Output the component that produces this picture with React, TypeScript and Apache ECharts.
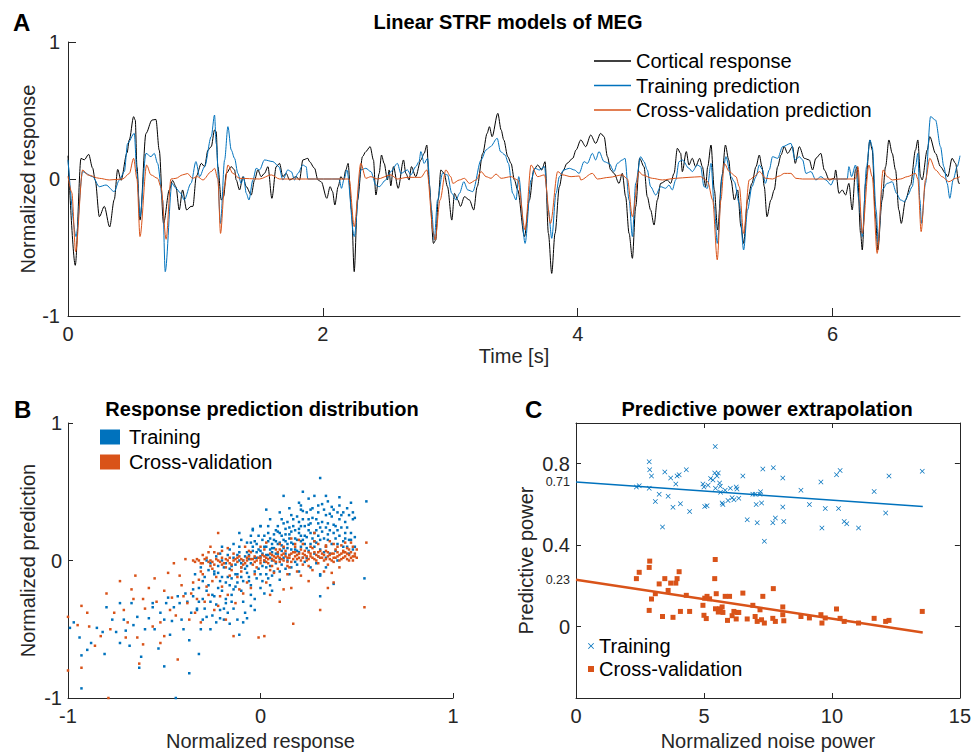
import React, { useEffect, useRef } from 'react';
import * as echarts from 'echarts';

const FONT = '"Liberation Sans", Arial, Helvetica, sans-serif';
const AX = '#262626';
const BLUE = '#0072BD';
const ORANGE = '#D95319';

// ---------- Panel A: time series [time s, normalized response] ----------
const cortical: [number, number][] = [[0,0.17],[0.057,-0.63],[0.102,0.15],[0.128,0.14],[0.162,0.18],[0.193,0.08],[0.214,-0.01],[0.246,-0.275],[0.285,-0.2],[0.327,-0.35],[0.363,-0.15],[0.39,0.07],[0.416,-0.01],[0.463,0.19],[0.481,0.285],[0.515,0.455],[0.528,0.43],[0.541,0.09],[0.565,-0.3],[0.612,0.333],[0.659,0.43],[0.69,0.435],[0.716,0.21],[0.75,-0.324],[0.795,-0.08],[0.821,-0.01],[0.847,-0.056],[0.873,-0.226],[0.899,-0.08],[0.931,-0.226],[0.965,-0.2],[0.98,-0.2],[1.007,0.02],[1.046,0.114],[1.072,0.09],[1.098,0.21],[1.124,0.236],[1.15,0.358],[1.163,0.345],[1.176,0.09],[1.203,-0.153],[1.221,-0.129],[1.242,0.041],[1.281,0.09],[1.307,0.066],[1.32,-0.007],[1.346,-0.08],[1.373,0.017],[1.399,-0.056],[1.438,-0.117],[1.464,-0.007],[1.49,0.066],[1.516,0.017],[1.542,0.041],[1.569,0.09],[1.6,-0.141],[1.634,0.09],[1.66,0.114],[1.686,0.017],[1.712,0.041],[1.739,-0.007],[1.791,0.017],[1.817,-0.007],[1.843,0.139],[1.882,0.151],[1.895,0.127],[1.935,0.078],[1.961,-0.007],[1.987,-0.02],[2.031,-0.141],[2.057,-0.056],[2.076,-0.092],[2.094,-0.19],[2.12,-0.056],[2.141,0.017],[2.162,-0.007],[2.18,0.066],[2.198,0.114],[2.225,-0.226],[2.246,-0.676],[2.272,-0.153],[2.311,0.163],[2.337,0.2],[2.371,0.236],[2.397,0.139],[2.416,-0.117],[2.442,0.041],[2.46,0.175],[2.481,0.114],[2.507,-0.007],[2.52,0.066],[2.533,-0.05],[2.554,0.09],[2.591,-0.068],[2.633,0.139],[2.651,0.041],[2.677,-0.007],[2.695,0.09],[2.729,0.017],[2.769,0.139],[2.795,0.187],[2.816,0.248],[2.834,-0.032],[2.868,-0.47],[2.886,-0.445],[2.905,-0.153],[2.926,0.066],[2.952,0.041],[2.978,-0.056],[3.012,-0.3],[3.033,-0.105],[3.059,-0.153],[3.08,-0.2],[3.111,-0.129],[3.15,-0.153],[3.184,-0.226],[3.211,-0.056],[3.255,0.187],[3.289,0.333],[3.307,0.382],[3.328,0.309],[3.373,0.479],[3.399,0.358],[3.42,0.285],[3.451,0.163],[3.477,0.114],[3.503,-0.007],[3.529,-0.08],[3.582,-0.42],[3.621,-0.153],[3.655,0.066],[3.686,0.102],[3.718,0.066],[3.744,0.127],[3.77,-0.397],[3.796,-0.689],[3.822,-0.397],[3.856,-0.056],[3.882,0.054],[3.916,0.114],[3.961,0.151],[3.987,0.212],[4.024,0.285],[4.063,0.236],[4.102,0.321],[4.141,0.26],[4.18,0.333],[4.207,0.309],[4.233,0.163],[4.259,0.066],[4.285,0.041],[4.324,-0.032],[4.35,0.041],[4.376,-0.129],[4.403,-0.397],[4.429,-0.579],[4.455,-0.202],[4.486,0.151],[4.52,0.09],[4.546,-0.129],[4.572,-0.226],[4.599,-0.336],[4.625,-0.153],[4.651,-0.032],[4.703,-0.007],[4.729,-0.032],[4.756,0.041],[4.782,0.224],[4.808,0.187],[4.821,0.054],[4.852,0.2],[4.873,0.102],[4.899,0.151],[4.925,0.09],[4.957,0.151],[4.978,0.09],[5.004,-0.056],[5.02,0.09],[5.046,0.248],[5.072,-0.08],[5.098,-0.372],[5.132,0.017],[5.159,0.248],[5.185,0.139],[5.203,-0.007],[5.229,-0.153],[5.255,-0.08],[5.281,-0.348],[5.302,-0.47],[5.333,-0.153],[5.367,-0.032],[5.399,0.09],[5.425,0.175],[5.446,0.09],[5.464,-0.056],[5.485,-0.275],[5.516,-0.153],[5.542,-0.08],[5.569,0.09],[5.595,0.175],[5.621,0.236],[5.647,0.187],[5.686,0.236],[5.707,0.114],[5.739,0.236],[5.778,0.151],[5.817,0.139],[5.843,0.066],[5.869,0.151],[5.908,0.187],[5.935,0.066],[5.974,-0.007],[6.013,0.005],[6.024,0.066],[6.05,-0.105],[6.076,-0.08],[6.102,-0.117],[6.128,-0.032],[6.154,-0.226],[6.18,0.066],[6.193,0.09],[6.22,-0.397],[6.233,-0.518],[6.259,-0.032],[6.293,0.285],[6.311,0.212],[6.337,-0.275],[6.355,-0.518],[6.389,-0.153],[6.416,0.09],[6.442,0.285],[6.468,0.187],[6.494,0.066],[6.52,-0.226],[6.539,-0.324],[6.573,-0.153],[6.612,-0.044],[6.651,0.212],[6.669,0.285],[6.69,0.017],[6.703,-0.007],[6.743,0.212],[6.763,0.309],[6.808,0.187],[6.847,0.09],[6.886,0.041],[6.904,0.017],[6.938,0.151],[6.965,0.114],[6.991,-0.032],[7.0,-0.03]];

const trainingPred: [number, number][] = [[0,0.14],[0.063,-0.42],[0.115,0.054],[0.193,0.017],[0.246,-0.056],[0.298,-0.044],[0.363,-0.092],[0.403,-0.007],[0.442,0.054],[0.468,0.26],[0.52,0.333],[0.541,0.041],[0.565,-0.275],[0.612,0.187],[0.651,0.163],[0.677,0.187],[0.703,0.114],[0.743,-0.153],[0.763,-0.676],[0.816,-0.032],[0.847,-0.068],[0.886,-0.105],[0.912,-0.153],[0.965,-0.032],[1.004,0.127],[1.033,0.017],[1.072,0.09],[1.124,0.309],[1.15,0.467],[1.163,0.26],[1.197,-0.324],[1.229,0.139],[1.255,0.382],[1.281,0.212],[1.307,0.151],[1.333,0.041],[1.359,-0.032],[1.378,0.017],[1.399,-0.105],[1.42,-0.153],[1.451,-0.007],[1.477,0.078],[1.503,0.066],[1.542,0.139],[1.608,0.127],[1.655,0.09],[1.686,-0.007],[1.725,0.066],[1.752,0.054],[1.778,-0.007],[1.804,0.041],[1.843,0.102],[1.869,0.09],[1.882,0],[2.128,0],[2.146,-0.068],[2.167,0],[2.188,0.066],[2.246,-0.42],[2.298,0.066],[2.337,0.078],[2.377,0.054],[2.416,-0.044],[2.442,-0.056],[2.494,-0.007],[2.533,0.054],[2.585,0.114],[2.612,0.041],[2.664,0.066],[2.69,0.03],[2.729,0.09],[2.755,0.127],[2.769,0.2],[2.795,0.114],[2.821,0.151],[2.853,-0.226],[2.874,-0.445],[2.9,-0.153],[2.939,0.041],[2.978,0.03],[3.012,-0.105],[3.046,-0.153],[3.072,-0.105],[3.106,-0.02],[3.137,-0.08],[3.176,-0.092],[3.242,0.139],[3.281,0.212],[3.315,0.236],[3.368,0.297],[3.394,0.2],[3.43,0.175],[3.456,0.114],[3.49,-0.105],[3.516,-0.153],[3.537,0.017],[3.587,-0.47],[3.634,-0.007],[3.665,0.078],[3.699,0.066],[3.739,0.09],[3.77,-0.226],[3.796,-0.433],[3.83,-0.105],[3.856,0.017],[3.89,0.066],[3.935,0.078],[3.974,0.066],[4.011,0.041],[4.05,0.127],[4.076,0.114],[4.115,0.187],[4.141,0.139],[4.167,0.2],[4.207,0.127],[4.246,0.114],[4.285,0.054],[4.311,0.114],[4.35,0.139],[4.371,0.151],[4.403,-0.153],[4.429,-0.42],[4.455,-0.032],[4.494,0.163],[4.52,0.127],[4.546,0.066],[4.572,-0.056],[4.612,-0.117],[4.651,-0.056],[4.69,-0.068],[4.716,-0.044],[4.742,-0.08],[4.769,-0.007],[4.795,0.127],[4.821,0.139],[4.873,0.078],[4.899,0.054],[4.939,0.102],[4.965,0.09],[4.991,-0.056],[5.017,-0.068],[5.046,0.114],[5.072,-0.202],[5.095,-0.47],[5.137,0.041],[5.163,0.163],[5.203,0.017],[5.229,-0.02],[5.268,-0.178],[5.302,-0.518],[5.333,-0.226],[5.367,-0.056],[5.399,0.017],[5.425,0.102],[5.451,0.066],[5.472,-0.032],[5.503,0.066],[5.529,0.163],[5.569,0.151],[5.608,0.236],[5.673,0.26],[5.707,0.139],[5.739,0.163],[5.765,0.139],[5.791,0.041],[5.83,0.054],[5.869,-0.007],[5.908,0.017],[5.948,-0.007],[5.987,-0.044],[6.013,0],[6.115,0],[6.128,0.09],[6.149,0.017],[6.18,0.102],[6.207,-0.153],[6.233,-0.42],[6.267,0.09],[6.293,0.285],[6.311,0.236],[6.342,-0.226],[6.358,-0.457],[6.389,-0.08],[6.429,-0.032],[6.468,-0.02],[6.502,-0.105],[6.533,-0.153],[6.565,-0.165],[6.591,-0.117],[6.625,-0.056],[6.651,0.09],[6.669,0.187],[6.685,-0.153],[6.698,-0.324],[6.729,-0.032],[6.769,0.455],[6.808,0.43],[6.847,0.236],[6.873,0.09],[6.899,-0.032],[6.92,-0.141],[6.946,-0.007],[6.978,0.09],[7.0,0.17]];

const cvPred: [number, number][] = [[0,0.02],[0.03,-0.1],[0.06,-0.53],[0.115,0.066],[0.154,0.03],[0.246,0.005],[0.324,-0.007],[0.429,0],[0.481,0.04],[0.515,0.151],[0.541,0],[0.565,-0.42],[0.617,0.102],[0.651,0.03],[0.703,0.005],[0.729,-0.056],[0.77,-0.44],[0.808,0],[0.847,0.005],[0.899,0.03],[0.938,0.04],[0.977,0.005],[1.016,0.017],[1.059,-0.007],[1.124,0.054],[1.15,0.078],[1.176,0],[1.197,-0.397],[1.229,-0.05],[1.255,0.102],[1.294,0.041],[1.346,0.005],[1.503,0],[1.595,0.03],[1.66,0],[2.206,0],[2.246,-0.348],[2.298,0.114],[2.337,0.005],[2.377,0.017],[2.429,0],[2.533,0.03],[2.585,0],[2.664,0.012],[2.769,0.012],[2.816,0.066],[2.868,-0.397],[2.881,-0.445],[2.92,-0.153],[2.965,0.066],[3.004,0.017],[3.02,-0.032],[3.072,-0.007],[3.111,0.005],[3.15,-0.032],[3.203,-0.007],[3.242,0.054],[3.281,0.017],[3.32,0.005],[3.359,0.036],[3.399,0.005],[3.477,0.017],[3.529,-0.007],[3.587,-0.372],[3.634,0.102],[3.686,0.017],[3.739,0.03],[3.786,-0.324],[3.843,0.054],[3.882,0.03],[3.948,0.017],[4.013,0.022],[4.024,-0.007],[4.115,0.041],[4.154,0],[4.246,0.012],[4.35,0.03],[4.39,0],[4.429,-0.275],[4.481,0.054],[4.507,0.03],[4.586,0.005],[4.664,-0.007],[4.769,0.005],[4.873,0.012],[4.965,0.017],[5.004,-0.007],[5.02,-0.02],[5.059,-0.153],[5.095,-0.59],[5.124,-0.153],[5.15,0.114],[5.19,0.054],[5.242,0.017],[5.268,-0.056],[5.302,-0.397],[5.346,-0.007],[5.386,0.017],[5.425,0.054],[5.477,0.005],[5.529,0],[5.582,0.022],[5.621,0.041],[5.673,0.041],[5.712,0.005],[5.765,0],[6.18,0],[6.199,0.09],[6.233,-0.397],[6.285,0.102],[6.311,0.017],[6.35,-0.543],[6.397,0.066],[6.429,0.017],[6.468,-0.007],[6.533,0],[6.586,0.017],[6.651,0.041],[6.669,0],[6.695,-0.384],[6.729,-0.007],[6.763,0.151],[6.808,0.066],[6.86,0.017],[6.912,-0.02],[6.965,0.005],[7.0,0.017]];

// ---------- Panel B: scatter [normalized response, normalized prediction] ----------
const bTraining: [number, number][] = [
[-0.31,-0.05],[-0.29,-0.12],[-0.32,-0.2],[-0.3,-0.28],[-0.28,0.0],[-0.33,-0.35],[-0.3,-0.15],
[-0.26,-0.02],[-0.24,-0.1],[-0.27,-0.18],[-0.25,-0.25],[-0.23,0.03],[-0.26,-0.3],[-0.24,-0.08],[-0.25,-0.4],
[-0.21,0.05],[-0.19,-0.05],[-0.2,-0.12],[-0.22,-0.2],[-0.18,-0.28],[-0.2,0.0],[-0.21,-0.15],[-0.19,-0.35],[-0.2,0.1],
[-0.16,0.08],[-0.14,0.02],[-0.15,-0.04],[-0.13,-0.1],[-0.16,-0.18],[-0.15,-0.25],[-0.14,0.12],[-0.16,-0.06],[-0.15,-0.3],
[-0.1,0.15],[-0.11,0.06],[-0.09,0.0],[-0.1,-0.05],[-0.12,-0.1],[-0.09,-0.15],[-0.1,-0.22],[-0.11,0.1],[-0.08,0.03],[-0.1,-0.02],[-0.09,-0.3],
[-0.05,0.18],[-0.04,0.1],[-0.06,0.04],[-0.05,-0.02],[-0.03,-0.08],[-0.06,-0.12],[-0.05,-0.18],[-0.04,0.07],[-0.06,0.01],[-0.05,-0.25],[-0.04,0.22],
[0.0,0.25],[0.01,0.15],[-0.01,0.08],[0.0,0.03],[0.02,-0.01],[-0.01,-0.06],[0.0,-0.1],[0.01,-0.15],[-0.02,0.12],[0.01,0.05],[0.0,-0.2],[0.02,0.0],
[0.05,0.3],[0.04,0.2],[0.06,0.12],[0.05,0.08],[0.04,0.04],[0.06,0.0],[0.05,-0.04],[0.07,-0.08],[0.04,-0.13],[0.05,0.16],[0.06,0.06],[0.05,-0.18],
[0.1,0.35],[0.09,0.25],[0.11,0.18],[0.1,0.13],[0.12,0.09],[0.09,0.05],[0.1,0.01],[0.11,-0.03],[0.1,-0.08],[0.09,0.21],[0.11,0.11],[0.1,-0.14],
[0.15,0.38],[0.14,0.28],[0.16,0.21],[0.15,0.16],[0.14,0.12],[0.16,0.08],[0.15,0.04],[0.14,0.0],[0.16,-0.05],[0.15,0.24],[0.13,0.14],[0.15,-0.1],
[0.2,0.42],[0.19,0.32],[0.21,0.25],[0.2,0.2],[0.19,0.15],[0.21,0.1],[0.2,0.06],[0.22,0.02],[0.19,-0.03],[0.2,0.28],[0.21,0.18],[0.2,-0.08],
[0.25,0.45],[0.24,0.35],[0.26,0.27],[0.25,0.22],[0.24,0.17],[0.26,0.12],[0.25,0.07],[0.24,0.02],[0.26,-0.05],[0.25,0.3],
[0.3,0.4],[0.29,0.3],[0.31,0.24],[0.3,0.18],[0.29,0.13],[0.31,0.08],[0.3,0.03],[0.29,-0.02],[0.3,0.35],[0.31,-0.1],
[0.35,0.43],[0.34,0.33],[0.36,0.22],[0.35,0.15],[0.34,0.1],[0.36,0.05],[0.35,0.27],[0.34,-0.05],
[0.4,0.35],[0.39,0.25],[0.41,0.18],[0.4,0.12],[0.39,0.07],[0.41,0.3],[0.4,0.0],
[0.45,0.38],[0.44,0.2],[0.46,0.15],[0.45,0.1],[0.44,0.28],[0.46,0.05],[0.48,0.3],[0.47,0.15],[0.49,0.1],
[-0.18,-0.02],[-0.12,0.04],[-0.07,-0.04],[-0.02,0.06],[0.03,0.1],[0.08,0.14],[0.13,0.19],[0.18,0.22],[0.23,0.12],[0.28,0.2],[0.33,0.16],[0.38,0.2],[0.43,0.14],
[-0.17,-0.12],[-0.07,-0.09],[0.03,-0.05],[0.08,-0.02],[0.13,0.05],[0.18,0.08],[0.23,0.25],[0.28,0.1],[0.33,0.06],[0.07,0.19],[0.12,0.27],[0.17,0.3],[0.22,0.36],[0.27,0.38],[0.32,0.28],[0.37,0.32],[0.42,0.24],
[-0.28,-0.22],[-0.22,-0.09],[-0.13,-0.19],[-0.03,0.14],[0.02,0.18],[0.17,0.12],[0.22,0.15],[0.27,0.16],[0.12,0.02],[0.07,0.09],
[-0.02,0.02],[0.0,0.07],[0.02,0.1],[0.03,0.04],[0.04,0.14],[0.05,0.02],[0.06,0.09],[0.07,0.15],[0.08,0.05],[0.09,0.12],[0.1,0.2],[0.11,0.07],[0.12,0.15],[0.13,0.23],[0.14,0.09],[0.15,0.19],[0.16,0.13],[0.17,0.25],[0.18,0.16],[0.19,0.07],[0.2,0.23],[0.21,0.14],[0.22,0.3],[0.23,0.18],[0.24,0.09],[0.25,0.26],[0.26,0.2],[0.27,0.31],[0.28,0.14],[0.29,0.22],[0.3,0.27],[0.31,0.15],[0.32,0.21],[0.33,0.37],[0.34,0.24],[0.35,0.19],[0.36,0.34],[0.37,0.12],[0.38,0.26],[0.39,0.16],[0.4,0.22],[0.42,0.33],[0.43,0.1],[0.44,0.16],[0.45,0.24],[0.47,0.2],[0.48,0.08],
[-0.22,-0.04],[-0.2,-0.22],[-0.18,-0.16],[-0.17,0.04],[-0.15,-0.13],[-0.13,-0.03],[-0.12,-0.16],[-0.11,0.0],[-0.1,-0.12],[-0.08,-0.06],[-0.07,0.06],[-0.06,-0.15],[-0.05,0.13],[-0.03,0.02],[-0.02,-0.13],[-0.01,0.18],[0.01,-0.04],[0.03,-0.1],[0.04,0.25],[0.06,-0.11],[0.08,0.22],[0.11,0.3],[0.13,-0.06],[0.16,0.33],[0.18,-0.01],[0.21,0.4],[0.23,-0.01],[0.26,0.37],[0.28,0.05],[0.32,0.41],[0.34,0.02],[0.37,0.39],[0.41,0.4],[0.43,0.35],[0.46,0.33],
[-0.35,-0.26],[-0.34,-0.1],[-0.32,-0.3],[-0.29,-0.35],[-0.27,-0.07],[-0.23,-0.32],[-0.21,-0.42],[-0.17,-0.38],[-0.14,-0.35],[-0.08,-0.38],[-0.03,-0.28],[0.02,-0.24],[0.06,-0.22],[-0.38,-0.3],[-0.43,-0.26],[-0.46,-0.44],[-0.52,-0.38],[-0.58,-0.42],[-0.6,-0.5],[-0.66,-0.47],[-0.75,-0.52],[-0.82,-0.52],[-0.9,-0.65],[-0.97,-0.45],[-0.68,-0.62],[-0.4,-0.5],[-0.36,-0.38],[-0.26,-0.5],[-0.16,-0.46],[-0.07,-0.42],
[-0.99,-0.49],[-0.94,-0.56],[-0.93,-0.69],[-0.93,-0.93],[-0.88,-0.6],[-0.85,-0.49],[-0.81,-0.68],[-0.8,-0.34],[-0.77,-0.43],[-0.73,-0.6],[-0.73,-0.31],[-0.71,-0.43],[-0.7,-0.51],[-0.67,-0.31],[-0.64,-0.41],[-0.63,-0.78],[-0.62,-0.7],[-0.56,-0.31],[-0.56,-0.34],[-0.55,-0.5],[-0.53,-0.64],[-0.5,-0.43],[-0.5,-0.77],[-0.49,-0.31],[-0.48,-0.27],[-0.47,-0.54],[-0.45,-0.34],[-0.44,-1.0],[-0.42,-0.31],[-0.41,-0.43],[-0.39,-0.24],[-0.37,-0.58],[-0.37,-0.82],[-0.35,-0.21],[-0.33,-0.36],[-0.32,-0.68],[-0.31,-0.5],[-0.3,-0.43],[-0.28,-0.41],[-0.24,-0.26],[-0.23,-0.45],[-0.21,-0.36],[-0.19,-0.43],[-0.18,-0.31],[-0.14,-0.21],[-0.12,-0.43],[-0.11,-0.54],[-0.09,-0.45],[-0.05,-0.33],[-0.03,-0.36],
[0.03,0.37],[0.12,0.47],[0.21,0.37],[0.22,0.5],[0.28,0.47],[0.34,0.47],[0.41,0.46],[0.47,0.42],[0.48,0.35],[0.49,0.31],[0.49,0.17],[0.38,0.37],[0.31,0.6],[0.55,0.43],[0.54,-0.13],[0.38,-0.17],[0.31,-0.26],[0.31,-0.11],[0.0,0.25],[-0.04,0.23],[-0.11,0.2],[-0.07,0.13]
];

const bCross: [number, number][] = [
[-1.0,-0.41],[-0.95,-0.47],[-0.93,-0.33],[-0.93,-0.78],[-1.0,-0.8],[-0.89,-0.48],[-0.83,-0.55],[-0.8,-0.24],[-0.79,-1.0],[-0.78,-0.5],[-0.73,-0.15],[-0.71,-0.36],[-0.7,-0.56],[-0.67,-0.21],[-0.65,-0.11],[-0.64,-0.56],[-0.63,-0.75],[-0.61,-0.61],[-0.61,-0.28],[-0.56,-0.48],[-0.55,-0.13],[-0.52,-0.45],[-0.5,-0.55],[-0.48,-0.09],[-0.47,-0.36],[-0.45,-0.02],[-0.43,-0.72],[-0.42,-0.11],[-0.4,-0.26],[-0.39,0.01],[-0.38,-0.31],[-0.37,-0.43],[-0.35,0.0],[-0.35,-0.16],[-0.33,-0.28],[-0.31,-0.45],[-0.3,-0.1],[-0.28,-0.19],[-0.26,0.1],[-0.24,-0.36],[-0.24,0.06],[-0.22,0.2],[-0.21,-0.26],[-0.18,-0.43],[-0.16,-0.11],[-0.14,-0.55],[-0.11,-0.21],[-0.07,-0.16],[-0.01,-0.56],[0.02,-0.55],[0.03,-0.16],[0.07,-0.09],[0.12,-0.21],[0.14,-0.1],[0.17,-0.46],[0.21,-0.11],[0.31,-0.36],[0.37,-0.09],[0.38,-0.16],[0.47,0.13],[0.48,0.1],[0.55,0.13],[0.54,-0.34],[0.28,0.2],[0.34,0.1],[0.43,0.06],
[-0.86,-0.62],[-0.76,-0.38],[-0.69,-0.45],[-0.6,-0.35],[-0.58,-0.2],[-0.54,-0.3],[-0.5,-0.22],[-0.46,-0.27],[-0.44,-0.4],[-0.41,-0.18],[-0.36,-0.24],[-0.34,-0.38],[-0.32,-0.14],[-0.29,-0.3],[-0.27,-0.25],[-0.25,-0.15],[-0.22,-0.33],[-0.2,-0.19],[-0.17,-0.25],[-0.13,-0.31],[-0.09,-0.24],[-0.05,-0.2],[0.05,-0.25],[0.1,-0.3],[0.16,-0.2],[0.25,-0.15],[0.35,-0.2],[-0.52,-0.6],[-0.66,-0.28],[-0.9,-0.38],
[-0.34,-0.01],[-0.32,0.0],[-0.3,-0.02],[-0.29,0.01],[-0.27,-0.01],[-0.26,0.0],[-0.24,-0.03],[-0.23,0.01],[-0.21,-0.01],[-0.2,0.02],[-0.19,-0.02],[-0.17,0.0],[-0.16,0.02],[-0.15,-0.03],[-0.13,0.01],[-0.12,-0.01],[-0.11,0.03],[-0.09,0.0],[-0.08,-0.02],[-0.07,0.02],[-0.05,0.01],[-0.04,-0.03],[-0.03,0.03],[-0.02,0.0],[0.0,0.02],[0.0,-0.02],[0.01,0.04],[0.02,0.0],[0.03,0.02],[0.04,-0.02],[0.05,0.05],[0.06,0.01],[0.07,0.03],[0.08,-0.01],[0.09,0.06],[0.1,0.02],[0.11,0.04],[0.12,0.0],[0.13,0.07],[0.14,0.02],[0.15,0.04],[0.16,-0.01],[0.17,0.06],[0.18,0.03],[0.19,0.01],[0.2,0.05],[0.21,0.08],[0.22,0.02],[0.23,0.04],[0.24,0.0],[0.25,0.06],[0.26,0.03],[0.27,0.09],[0.28,0.01],[0.29,0.04],[0.3,0.06],[0.31,0.02],[0.32,0.05],[0.33,0.0],[0.34,0.07],[0.35,0.03],[0.36,0.01],[0.37,0.05],[0.38,0.02],[0.39,0.08],[0.4,0.03],[0.41,0.0],[0.42,0.05],[0.43,0.02],[0.44,0.06],[0.45,0.01],[0.46,0.04],[0.47,0.02],[0.48,0.0],[0.49,0.03],
[-0.33,0.01],[-0.31,-0.02],[-0.28,0.02],[-0.25,-0.01],[-0.22,0.0],[-0.2,-0.03],[-0.18,0.01],[-0.16,-0.02],[-0.14,0.0],[-0.12,0.02],[-0.1,0.01],[-0.09,-0.03],[-0.07,0.0],[-0.06,0.03],[-0.04,0.01],[-0.03,-0.01],[-0.01,0.02],[0.0,0.0],[0.02,0.03],[0.03,-0.01],[0.04,0.01],[0.06,0.04],[0.07,0.0],[0.08,0.02],[0.09,0.03],[0.1,-0.01],[0.11,0.01],[0.12,0.05],[0.13,0.03],[0.14,-0.01],[0.15,0.02],[0.16,0.05],[0.17,0.01],[0.18,0.06],[0.19,0.04],[0.2,0.02],[0.21,0.0],[0.22,0.05],[0.23,0.07],[0.24,0.03],[0.25,0.01],[0.26,0.05],[0.27,0.02],[0.28,0.06],[0.29,0.0],[0.3,0.03],[0.31,0.07],[0.32,0.02],[0.33,0.04],[0.34,0.01],[0.35,0.06],[0.36,0.04],[0.37,0.0],[0.38,0.05],[0.39,0.02],[0.4,0.06],[0.41,0.04],[0.42,0.01],[0.43,0.07],[0.44,0.03],[0.45,0.05],[0.46,0.0],[0.47,0.06],[0.48,0.03],[0.49,0.05],[0.5,0.02],
[-0.3,0.04],[-0.26,-0.04],[-0.22,0.05],[-0.18,-0.05],[-0.14,0.05],[-0.1,-0.05],[-0.06,0.07],[-0.02,-0.05],[0.02,0.08],[0.06,-0.04],[0.1,0.08],[0.14,-0.04],[0.18,0.12],[0.22,-0.03],[0.26,0.1],[0.3,-0.02],[0.34,0.11],[0.38,-0.01],[0.42,0.11],[0.46,0.08],[0.5,0.08],[-0.23,-0.12],[-0.17,0.09],[-0.08,0.1],[0.03,0.13],[0.16,0.16],[0.27,-0.07],[0.36,0.14],[0.41,-0.05],[-0.31,-0.08],[-0.27,0.06],[-0.12,-0.12],[-0.03,-0.1],[0.09,-0.06],[0.19,-0.08],[0.33,-0.08],
[-0.2,0.07],[-0.1,-0.08],[0.0,0.1],[0.05,-0.07],[0.1,0.12],[0.15,-0.05],[0.2,0.15],[0.25,-0.04],[0.3,0.12],[0.35,-0.03],[0.4,0.1],[0.45,0.09],[0.12,0.1],[0.22,0.12],[-0.05,0.06],[-0.25,-0.06],[-0.15,-0.07],[0.08,0.08],[0.18,0.1],[0.28,0.14],[0.38,0.12],[0.44,0.13]
];

// ---------- Panel C: [normalized noise power, predictive power] ----------
const cTraining: [number, number][] = [[2.36,0.686],[2.47,0.692],[2.86,0.81],[2.88,0.77],[2.95,0.74],[2.86,0.68],[3.1,0.615],[3.25,0.65],[3.38,0.49],[3.47,0.76],[3.6,0.64],[3.7,0.73],[3.79,0.586],[3.9,0.7],[3.95,0.74],[4.03,0.746],[4.08,0.604],[4.31,0.77],[4.44,0.566],[4.96,0.7],[5.0,0.686],[5.03,0.59],[5.12,0.594],[5.16,0.694],[5.26,0.728],[5.35,0.72],[5.42,0.755],[5.44,0.885],[5.45,0.68],[5.51,0.74],[5.56,0.755],[5.61,0.705],[5.64,0.69],[5.65,0.66],[5.71,0.607],[5.74,0.6],[5.83,0.67],[5.94,0.62],[6.03,0.68],[6.1,0.633],[6.17,0.623],[6.26,0.686],[6.29,0.676],[6.36,0.63],[6.52,0.74],[6.69,0.525],[6.91,0.65],[7.0,0.65],[7.04,0.6],[7.08,0.51],[7.19,0.65],[7.21,0.663],[7.25,0.607],[7.3,0.774],[7.36,0.42],[7.69,0.51],[7.71,0.78],[7.79,0.534],[8.08,0.73],[8.08,0.588],[8.12,0.517],[8.79,0.67],[9.12,0.6],[9.57,0.71],[9.61,0.484],[9.74,0.58],[10.18,0.746],[10.26,0.58],[10.32,0.767],[10.48,0.517],[10.58,0.506],[11.04,0.484],[11.65,0.664],[12.1,0.558],[12.23,0.74],[13.53,0.763]];
const cCross: [number, number][] = [[2.36,0.236],[2.47,0.267],[2.86,0.291],[2.88,0.322],[2.95,0.136],[2.86,0.08],[3.1,0.162],[3.25,0.21],[3.38,0.05],[3.47,0.236],[3.6,0.178],[3.7,0.214],[3.79,0.046],[3.9,0.214],[3.95,0.236],[4.03,0.27],[4.08,0.075],[4.31,0.154],[4.44,0.075],[4.96,0.105],[5.0,0.056],[5.09,0.04],[5.03,0.14],[5.12,0.149],[5.22,0.137],[5.42,0.236],[5.44,0.33],[5.45,0.088],[5.48,0.162],[5.56,0.072],[5.61,0.088],[5.64,0.075],[5.71,0.097],[5.74,0.07],[5.83,0.149],[5.92,0.031],[6.0,0.149],[6.1,0.054],[6.17,0.075],[6.26,0.038],[6.29,0.07],[6.36,0.07],[6.52,0.165],[6.69,0.038],[6.91,0.105],[7.0,0.05],[7.08,0.026],[7.19,0.083],[7.25,0.034],[7.3,0.149],[7.36,0.018],[7.69,0.041],[7.71,0.187],[7.79,0.026],[8.08,0.097],[8.08,0.059],[8.12,0.029],[8.79,0.05],[9.12,0.043],[9.57,0.059],[9.61,0.018],[9.74,0.043],[10.18,0.087],[10.32,0.041],[10.48,0.026],[11.04,0.018],[11.65,0.041],[12.1,0.026],[12.23,0.031],[13.53,0.075]];
const trainFit: [number, number][] = [[0, 0.71], [13.55, 0.59]];
const crossFit: [number, number][] = [[0, 0.23], [13.55, -0.028]];

const xTicksA = [0, 2, 4, 6];
const yLabelsC = [0, 0.23, 0.4, 0.71, 0.8];
const yTicksC = [0, 0.4, 0.8];

const X_SYMBOL = 'path://M0,1L1,0L5,4L9,0L10,1L6,5L10,9L9,10L5,6L1,10L0,9L4,5Z';

const lbl = { color: AX, fontSize: 20, fontFamily: FONT };
const nameStyle = { color: AX, fontSize: 20, fontFamily: FONT };
const axLine = { show: true, onZero: false, lineStyle: { color: AX, width: 1 } };

export default function App() {
  const ref = useRef<HTMLDivElement>(null);
  useEffect(() => {
    if (!ref.current) return;
    const chart = echarts.init(ref.current, undefined, { renderer: 'svg' });
    const option: any = {
      animation: false,
      backgroundColor: '#ffffff',
      textStyle: { fontFamily: FONT },
      grid: [
        { left: 68, top: 42, width: 892, height: 274 },
        { left: 68, top: 423, width: 385, height: 275 },
        { left: 576, top: 423, width: 385, height: 275 },
      ],
      xAxis: [
        { gridIndex: 0, type: 'value', min: 0, max: 7, axisLine: axLine,
          axisTick: { inside: true, length: 8, customValues: xTicksA, lineStyle: { color: AX } },
          axisLabel: { ...lbl, margin: 8, customValues: xTicksA }, splitLine: { show: false },
          name: 'Time [s]', nameLocation: 'middle', nameGap: 30, nameMoveOverlap: false, nameTextStyle: nameStyle },
        { gridIndex: 1, type: 'value', min: -1, max: 1, interval: 1, axisLine: axLine,
          axisTick: { inside: true, length: 5, lineStyle: { color: AX } },
          axisLabel: { ...lbl, margin: 8 }, splitLine: { show: false },
          name: 'Normalized response', nameLocation: 'middle', nameGap: 33, nameMoveOverlap: false, nameTextStyle: nameStyle },
        { gridIndex: 2, type: 'value', min: 0, max: 15, interval: 5, axisLine: axLine,
          axisTick: { inside: true, length: 5, lineStyle: { color: AX } },
          axisLabel: { ...lbl, margin: 8 }, splitLine: { show: false },
          name: 'Normalized noise power', nameLocation: 'middle', nameGap: 33, nameMoveOverlap: false, nameTextStyle: nameStyle },
        { gridIndex: 2, type: 'value', position: 'top', min: 0, max: 15, interval: 5, axisLine: axLine,
          axisTick: { inside: true, length: 5, lineStyle: { color: AX } },
          axisLabel: { show: false }, splitLine: { show: false } },
      ],
      yAxis: [
        { gridIndex: 0, type: 'value', min: -1, max: 1, interval: 1, axisLine: axLine,
          axisTick: { inside: true, length: 8, lineStyle: { color: AX } },
          axisLabel: { ...lbl, margin: 8 }, splitLine: { show: false },
          name: 'Normalized response', nameLocation: 'middle', nameGap: 30, nameMoveOverlap: false, nameTextStyle: nameStyle },
        { gridIndex: 1, type: 'value', min: -1, max: 1, interval: 1, axisLine: axLine,
          axisTick: { inside: true, length: 5, lineStyle: { color: AX } },
          axisLabel: { ...lbl, margin: 6 }, splitLine: { show: false },
          name: 'Normalized prediction', nameLocation: 'middle', nameGap: 30, nameMoveOverlap: false, nameTextStyle: nameStyle },
        { gridIndex: 2, type: 'value', min: -0.35, max: 1, axisLine: axLine,
          axisTick: { inside: true, length: 5, customValues: yTicksC, lineStyle: { color: AX } },
          axisLabel: { ...lbl, margin: 6, customValues: yLabelsC,
            formatter: (v: number) => (v === 0.23 || v === 0.71 ? `{s|${v}}` : `${v}`),
            rich: { s: { fontSize: 12.5, color: AX, fontFamily: FONT } } },
          splitLine: { show: false },
          name: 'Predictive power', nameLocation: 'middle', nameGap: 40, nameMoveOverlap: false, nameTextStyle: nameStyle },
        { gridIndex: 2, type: 'value', position: 'right', min: -0.35, max: 1, axisLine: axLine,
          axisTick: { inside: true, length: 5, customValues: yTicksC, lineStyle: { color: AX } },
          axisLabel: { show: false }, splitLine: { show: false } },
      ],
      legend: [
        { data: ['Cortical response', 'Training prediction', 'Cross-validation prediction'],
          orient: 'vertical', left: 594, top: 49, padding: 0, icon: 'rect', itemWidth: 37, itemHeight: 1.3, itemGap: 0.5,
          textStyle: { color: '#000', fontSize: 20, fontFamily: FONT, lineHeight: 24 }, selectedMode: false },
        { data: ['bTrain', 'bCross'], orient: 'vertical', left: 100, top: 427, padding: 0, icon: 'rect',
          itemWidth: 20, itemHeight: 15, itemGap: 5,
          formatter: (n: string) => (n === 'bTrain' ? 'Training' : 'Cross-validation'),
          textStyle: { color: '#000', fontSize: 20, fontFamily: FONT, lineHeight: 20, padding: [0, 0, 0, 4] }, selectedMode: false },
        { data: ['cTrain', 'cCross'], orient: 'vertical', left: 588, top: 636, padding: 0,
          itemWidth: 6, itemHeight: 6, itemGap: 3,
          formatter: (n: string) => (n === 'cTrain' ? 'Training' : 'Cross-validation'),
          textStyle: { color: '#000', fontSize: 20, fontFamily: FONT, lineHeight: 20 }, selectedMode: false },
      ],
      graphic: [
        { type: 'text', x: 13, y: 22, style: { text: 'A', font: `bold 24px ${FONT}`, fill: '#000', textAlign: 'left', textVerticalAlign: 'middle', verticalAlign: 'middle' } },
        { type: 'text', x: 508, y: 22, style: { text: 'Linear STRF models of MEG', font: `bold 20px ${FONT}`, fill: '#000', textAlign: 'center', textVerticalAlign: 'middle', verticalAlign: 'middle' } },
        { type: 'text', x: 14, y: 409, style: { text: 'B', font: `bold 24px ${FONT}`, fill: '#000', textAlign: 'left', textVerticalAlign: 'middle', verticalAlign: 'middle' } },
        { type: 'text', x: 262, y: 409, style: { text: 'Response prediction distribution', font: `bold 20px ${FONT}`, fill: '#000', textAlign: 'center', textVerticalAlign: 'middle', verticalAlign: 'middle' } },
        { type: 'text', x: 525, y: 409, style: { text: 'C', font: `bold 24px ${FONT}`, fill: '#000', textAlign: 'left', textVerticalAlign: 'middle', verticalAlign: 'middle' } },
        { type: 'text', x: 767, y: 409, style: { text: 'Predictive power extrapolation', font: `bold 20px ${FONT}`, fill: '#000', textAlign: 'center', textVerticalAlign: 'middle', verticalAlign: 'middle' } },
      ],
      series: [
        { name: 'Cortical response', type: 'line', xAxisIndex: 0, yAxisIndex: 0, data: cortical, showSymbol: false, symbol: 'none', smooth: 0.3, smoothMonotone: 'x', color: '#000', lineStyle: { color: '#000', width: 1 } },
        { name: 'Training prediction', type: 'line', xAxisIndex: 0, yAxisIndex: 0, data: trainingPred, showSymbol: false, symbol: 'none', smooth: 0.3, smoothMonotone: 'x', color: BLUE, lineStyle: { color: BLUE, width: 1 } },
        { name: 'Cross-validation prediction', type: 'line', xAxisIndex: 0, yAxisIndex: 0, data: cvPred, showSymbol: false, symbol: 'none', smooth: 0.3, smoothMonotone: 'x', color: ORANGE, lineStyle: { color: ORANGE, width: 1 } },
        { name: 'bTrain', type: 'scatter', xAxisIndex: 1, yAxisIndex: 1, data: bTraining, symbol: 'rect', symbolSize: 2.5, itemStyle: { color: BLUE, opacity: 1 } },
        { name: 'bCross', type: 'scatter', xAxisIndex: 1, yAxisIndex: 1, data: bCross, symbol: 'rect', symbolSize: 2.5, itemStyle: { color: ORANGE, opacity: 1 } },
        { name: 'cTrain', type: 'scatter', xAxisIndex: 2, yAxisIndex: 2, data: cTraining, symbol: X_SYMBOL, symbolSize: 5, itemStyle: { color: BLUE, opacity: 1 } },
        { name: 'cCross', type: 'scatter', xAxisIndex: 2, yAxisIndex: 2, data: cCross, symbol: 'rect', symbolSize: 5, itemStyle: { color: ORANGE, opacity: 1 } },
        { name: 'trainFit', type: 'line', xAxisIndex: 2, yAxisIndex: 2, data: trainFit, showSymbol: false, symbol: 'none', lineStyle: { color: BLUE, width: 1.5 }, color: BLUE },
        { name: 'crossFit', type: 'line', xAxisIndex: 2, yAxisIndex: 2, data: crossFit, showSymbol: false, symbol: 'none', lineStyle: { color: ORANGE, width: 2.5 }, color: ORANGE },
      ],
    };
    chart.setOption(option);
    return () => chart.dispose();
  }, []);
  return <div ref={ref} style={{ position: 'fixed', left: 0, top: 0, width: 974, height: 753, background: '#fff' }} />;
}
